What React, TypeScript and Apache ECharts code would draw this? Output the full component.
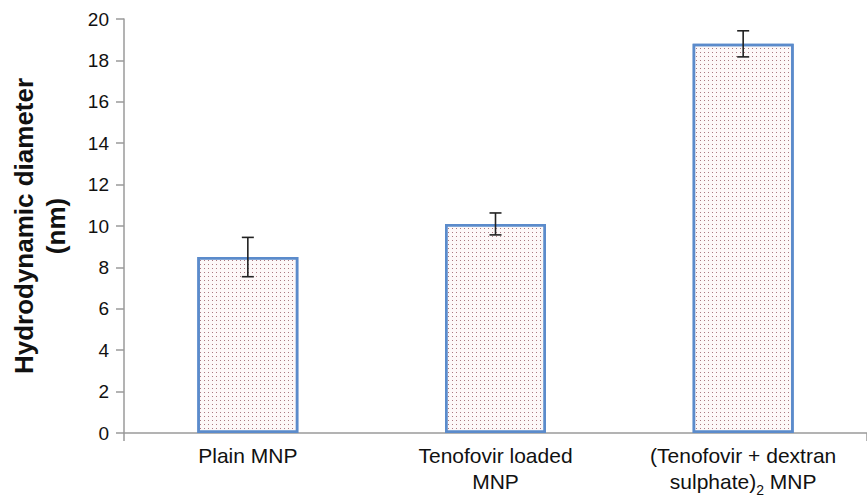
import React, { useEffect, useRef } from "react";
import * as echarts from "echarts";

const categories = ["Plain MNP", "Tenofovir loaded\nMNP", "(Tenofovir + dextran\nsulphate)₂ MNP"];
const meanValues = [8.5, 10.1, 18.8];
const errorValues = [0.95, 0.53, 0.63];
const yTicks = { min: 0, max: 20, interval: 2 };

const toRich = (v: string) =>
  v
    .split("\n")
    .map((line) => line.split("₂").map((p) => (p ? `{t|${p}}` : "")).join("{sub|2}"))
    .join("\n");

export default function App() {
  const ref = useRef<HTMLDivElement>(null);
  useEffect(() => {
    document.body.style.margin = "0";
    if (!ref.current) return;
    const chart = echarts.init(ref.current, null, { renderer: "svg" });
    const errData = meanValues.map((v, i) => [i, v - errorValues[i], v + errorValues[i]]);
    chart.setOption({
      animation: false,
      textStyle: { fontFamily: "Liberation Sans, Arial, sans-serif" },
      grid: { left: 123, top: 19, width: 756, height: 416, containLabel: false },
      xAxis: {
        type: "category",
        data: categories,
        axisLine: { lineStyle: { color: "#9a9a9a", width: 1.5 } },
        axisTick: { show: true, length: 8, interval: (i: number) => i === 0, lineStyle: { color: "#9a9a9a", width: 1.5 } },
        axisLabel: {
          color: "#111",
          fontSize: 21,
          lineHeight: 26,
          margin: 12,
          interval: 0,
          formatter: toRich,
          rich: {
            t: { fontSize: 21, lineHeight: 26, verticalAlign: "top", color: "#111" },
            sub: { fontSize: 14, lineHeight: 14, padding: [12, 0, 0, 0], verticalAlign: "top", color: "#111" },
          },
        },
      },
      yAxis: {
        type: "value",
        min: yTicks.min,
        max: yTicks.max,
        interval: yTicks.interval,
        name: "Hydrodynamic diameter\n(nm)",
        nameLocation: "middle",
        nameRotate: 90,
        nameGap: 52,
        nameTextStyle: { color: "#111", fontSize: 26, fontWeight: "bold", lineHeight: 32 },
        splitLine: { show: false },
        axisLine: { show: true, lineStyle: { color: "#9a9a9a", width: 1.5 } },
        axisTick: { show: true, length: 8, lineStyle: { color: "#9a9a9a", width: 1.5 } },
        axisLabel: { color: "#111", fontSize: 19, margin: 15 },
      },
      series: [
        {
          type: "bar",
          data: meanValues,
          barWidth: 101,
          itemStyle: {
            color: "#fdf8f8",
            borderColor: "#5b8bcb",
            borderWidth: 2.5,
            decal: {
              symbol: "rect",
              symbolSize: 1,
              color: "rgba(150,90,100,0.8)",
              dashArrayX: [1, 3],
              dashArrayY: [1, 3],
              rotation: 0,
            },
          },
        },
        {
          type: "custom",
          data: errData,
          z: 10,
          renderItem: (params: any, api: any) => {
            const x = api.value(0);
            const lo = api.coord([x, api.value(1)]);
            const hi = api.coord([x, api.value(2)]);
            const hw = 6;
            const style = { stroke: "#222", lineWidth: 1.6 };
            return {
              type: "group",
              children: [
                { type: "line", shape: { x1: lo[0], y1: lo[1], x2: hi[0], y2: hi[1] }, style },
                { type: "line", shape: { x1: hi[0] - hw, y1: hi[1], x2: hi[0] + hw, y2: hi[1] }, style },
                { type: "line", shape: { x1: lo[0] - hw, y1: lo[1], x2: lo[0] + hw, y2: lo[1] }, style },
              ],
            };
          },
        },
      ],
    });
    return () => chart.dispose();
  }, []);
  return <div ref={ref} style={{ width: 867, height: 497 }} />;
}
